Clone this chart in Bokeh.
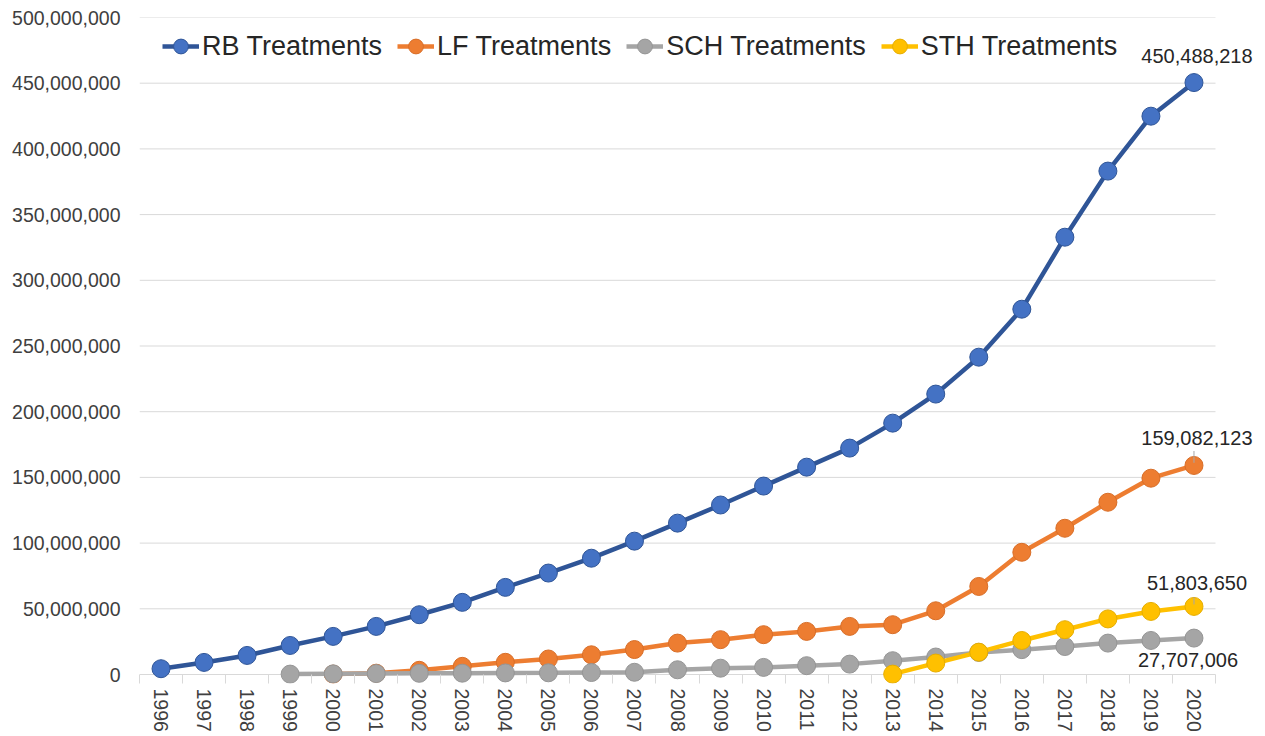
import math
from bokeh.plotting import figure
from bokeh.models import (ColumnDataSource, FixedTicker, NumeralTickFormatter,
                          Legend, LegendItem, Range1d, Label)
from bokeh.embed import file_html
from bokeh.resources import INLINE

NaN = float("nan")
years = [str(y) for y in range(1996, 2021)]
rb = [4.4e6, 9.2e6, 14.5e6, 22.1e6, 29.0e6, 36.6e6, 45.5e6, 54.9e6, 66.3e6, 77.2e6,
      88.5e6, 101.5e6, 115.2e6, 129.0e6, 143.4e6, 157.8e6, 172.3e6, 191.3e6, 213.4e6,
      241.5e6, 278.0e6, 332.8e6, 383.1e6, 424.9e6, 450488218]
lf = [NaN, NaN, NaN, NaN, 0.3e6, 1.0e6, 3.2e6, 6.2e6, 9.3e6, 11.8e6, 15.0e6, 19.0e6,
      23.9e6, 26.5e6, 30.3e6, 32.8e6, 36.6e6, 37.9e6, 48.5e6, 67.0e6, 93.0e6, 111.3e6,
      131.1e6, 149.4e6, 159082123]
sch = [NaN, NaN, NaN, 0.3e6, 0.5e6, 0.7e6, 0.9e6, 1.0e6, 1.2e6, 1.3e6, 1.5e6, 1.7e6,
       3.6e6, 4.8e6, 5.4e6, 6.7e6, 7.9e6, 10.5e6, 13.3e6, 16.8e6, 18.9e6, 21.3e6,
       23.9e6, 25.9e6, 27707006]
sth = [NaN] * 17 + [0.3e6, 8.7e6, 17.0e6, 25.9e6, 34.1e6, 42.3e6, 48.0e6, 51803650]
series_names = ["RB Treatments", "LF Treatments", "SCH Treatments", "STH Treatments"]
y_ticks = list(range(0, 500000001, 50000000))
y_max = 500000000

line_colors = ["#2f5597", "#ed7d31", "#a5a5a5", "#ffc000"]
fill_colors = ["#4472c4", "#ed7d31", "#a5a5a5", "#ffc000"]
edge_colors = ["#2f5597", "#d86e28", "#959595", "#e6ad00"]

FONT = "Liberation Sans"
GRID = "#d9d9d9"

n = len(years)
xs = list(range(n))
x_lo, x_hi = -0.5, n - 0.5

# layout: category area 1076 px wide, value area 657 px tall; the frame is
# extended right (labels) and down (markers at zero) so nothing is clipped
W, H = 1265, 736
left, top = 139, 17
cat_px, val_px, below_px = 1076.0, 657.0, 9.0
extra_px = W - left - cat_px
x_end = x_hi + extra_px * (x_hi - x_lo) / cat_px
y_lo = -below_px * y_max / val_px
bottom = H - top - val_px - below_px

p = figure(width=W, height=H, output_backend="svg", toolbar_location=None,
           x_range=Range1d(x_lo, x_end), y_range=Range1d(y_lo, y_max),
           min_border_left=left, min_border_top=top, min_border_right=0,
           min_border_bottom=int(bottom))
p.outline_line_color = None
p.background_fill_color = "white"
p.border_fill_color = "white"

# horizontal gridlines over the category area only (first one is the x baseline)
p.segment(x0=[x_lo] * len(y_ticks), y0=y_ticks, x1=[x_hi] * len(y_ticks), y1=y_ticks,
          line_color=GRID, line_width=1)

items = []
for name, vals, lc, fc, ec in zip(series_names, [rb, lf, sch, sth], line_colors,
                                  fill_colors, edge_colors):
    src = ColumnDataSource(dict(x=xs, y=vals))
    lr = p.line("x", "y", source=src, line_color=lc, line_width=4.5)
    sr = p.scatter("x", "y", source=src, size=18, fill_color=fc, line_color=ec,
                   line_width=1)
    items.append(LegendItem(label=name, renderers=[lr, sr]))

last = n - 1

# leader lines
for val, a, b in [(lf[-1], 2e6, 11e6), (sth[-1], 1.5e6, 7e6)]:
    p.segment(x0=[last], y0=[val + a], x1=[last], y1=[val + b],
              line_color="#a6a6a6", line_width=1)

# data labels on the last point
label_specs = [
    (rb[-1], 3, 27),
    (lf[-1], 3, 27),
    (sth[-1], 3, 23),
    (sch[-1], -6, -22),
]
for val, dx, dy in label_specs:
    p.add_layout(Label(x=last, y=val, text=f"{int(val):,}", x_offset=dx, y_offset=dy,
                       text_align="center", text_baseline="middle", text_font=FONT,
                       text_font_size="20px", text_color="#262626"))

legend = Legend(items=items, orientation="horizontal", location=(23, 609 + below_px),
                label_text_font=FONT, label_text_font_size="27px",
                label_text_color="#262626", glyph_width=37, glyph_height=38,
                label_standoff=3, spacing=15, padding=0, margin=0,
                border_line_color=None, background_fill_alpha=0)
p.add_layout(legend, "center")

# axes
xa = p.xaxis[0]
xa.ticker = FixedTicker(ticks=xs, minor_ticks=[i - 0.5 for i in range(n + 1)])
xa.major_label_overrides = {i: y for i, y in enumerate(years)}
xa.major_label_orientation = -math.pi / 2
xa.major_label_text_font = FONT
xa.major_label_text_font_size = "19.5px"
xa.major_label_text_color = "#404040"
xa.major_label_standoff = 5
xa.major_tick_line_color = None
xa.major_tick_out = 0
xa.major_tick_in = 0
xa.minor_tick_line_color = GRID
xa.minor_tick_out = 0
xa.minor_tick_in = int(below_px)
xa.axis_line_color = None

ya = p.yaxis[0]
ya.ticker = FixedTicker(ticks=y_ticks)
ya.formatter = NumeralTickFormatter(format="0,0")
ya.major_label_text_font = FONT
ya.major_label_text_font_size = "19.5px"
ya.major_label_text_color = "#404040"
ya.axis_line_color = None
ya.major_tick_line_color = None
ya.minor_tick_line_color = None
ya.major_label_standoff = 13

p.xgrid.grid_line_color = None
p.ygrid.grid_line_color = None

open("out.html", "w").write(file_html(p, INLINE))
